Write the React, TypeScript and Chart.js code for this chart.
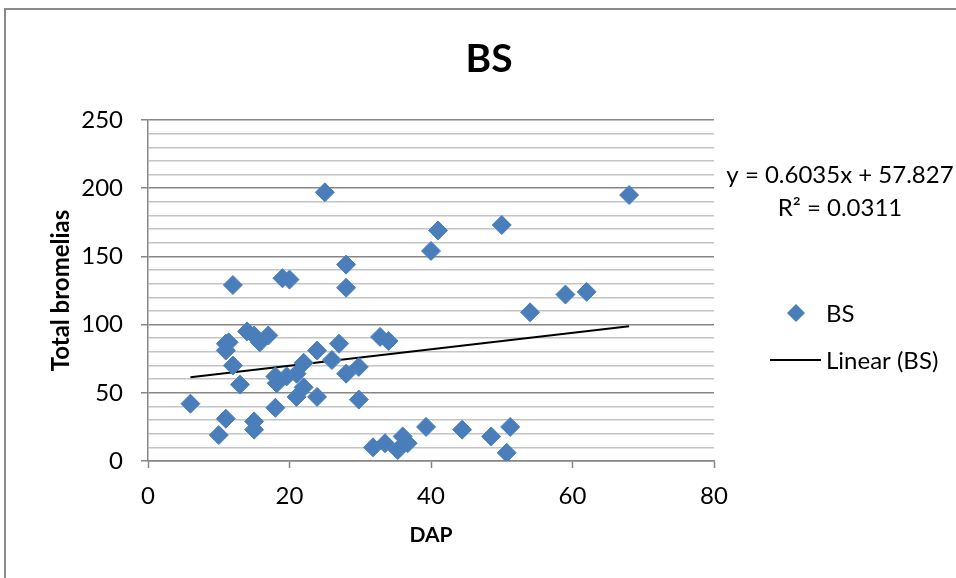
import React, { useEffect, useRef } from "react";
import { Chart, registerables } from "chart.js";

Chart.register(...registerables);

const chartTitle = "BS";
const seriesName = "BS";
const trendName = "Linear (BS)";
const xTitle = "DAP";
const yTitle = "Total bromelias";

const dapValues = [
  6, 10, 11, 11, 11, 11.4, 12, 12, 13, 14, 15, 15, 15, 15.8, 17, 18, 18.2, 18,
  19, 20, 19.6, 21, 22, 21, 22, 23.9, 23.9, 25, 26, 27, 28, 28, 28, 29.8, 29.8,
  31.8, 33.5, 32.8, 34, 35.3, 36, 36.7, 39.3, 40, 41, 44.4, 48.5, 50, 50.7,
  51.2, 54, 59, 62, 68,
];
const bromeliaValues = [
  42, 19, 31, 81, 86, 87, 129, 70, 56, 95, 92, 29, 23, 87, 92, 62, 57, 39, 134,
  133, 62, 64, 72, 47, 54, 47, 81, 197, 74, 86, 64, 144, 127, 69, 45, 10, 13,
  91, 88, 8, 18, 13, 25, 154, 169, 23, 18, 173, 6, 25, 109, 122, 124, 195,
];

const trendSlope = 0.6035;
const trendIntercept = 57.827;
const equationText = "y = 0.6035x + 57.827";
const r2Text = "R² = 0.0311";

const xTicks = [0, 20, 40, 60, 80];
const yMajorStep = 50;
const yMinorStep = 10;

const FONT = "Lato, 'Open Sans', sans-serif";
const MARKER = "#4a7ebb";
const MAJOR = "#868686";
const MINOR = "#c4c4c4";

export default function App() {
  const ref = useRef<HTMLCanvasElement | null>(null);

  useEffect(() => {
    if (!ref.current) return;
    const xs = dapValues;
    const minX = Math.min(...xs);
    const maxX = Math.max(...xs);
    const points = xs.map((x, i) => ({ x, y: bromeliaValues[i] }));
    const trend = [minX, maxX].map((x) => ({ x, y: trendSlope * x + trendIntercept }));

    const overlay = {
      id: "overlay",
      afterDraw(chart: any) {
        const ctx = chart.ctx;
        ctx.save();
        ctx.fillStyle = "#000";
        ctx.textBaseline = "middle";
        // title
        ctx.font = `bold 39px ${FONT}`;
        ctx.textAlign = "center";
        ctx.fillText(chartTitle, 489, 59);
        // trend equation
        ctx.font = `24px ${FONT}`;
        ctx.fillText(equationText, 840, 175);
        ctx.fillText(r2Text, 840, 208);
        // legend
        ctx.textAlign = "left";
        ctx.fillStyle = MARKER;
        ctx.beginPath();
        ctx.moveTo(796 - 9, 313);
        ctx.lineTo(796, 313 - 9);
        ctx.lineTo(796 + 9, 313);
        ctx.lineTo(796, 313 + 9);
        ctx.closePath();
        ctx.fill();
        ctx.fillStyle = "#000";
        ctx.fillText(seriesName, 826, 314);
        ctx.strokeStyle = "#000";
        ctx.lineWidth = 2;
        ctx.beginPath();
        ctx.moveTo(770, 360);
        ctx.lineTo(821, 360);
        ctx.stroke();
        ctx.fillText(trendName, 826, 361);
        ctx.restore();
      },
    };

    const chart = new Chart(ref.current, {
      type: "scatter",
      data: {
        datasets: [
          {
            label: seriesName,
            data: points,
            pointStyle: "rectRot",
            pointRadius: 9.5,
            pointHoverRadius: 9.5,
            backgroundColor: MARKER,
            borderColor: MARKER,
            borderWidth: 1,
          },
          {
            label: trendName,
            type: "line",
            data: trend,
            borderColor: "#000",
            borderWidth: 2,
            pointRadius: 0,
            fill: false,
          } as any,
        ],
      },
      options: {
        animation: false,
        responsive: false,
        devicePixelRatio: 1,
        layout: { padding: { left: 0, right: 242, top: 120, bottom: 0 } },
        plugins: {
          legend: { display: false },
          title: { display: false },
          tooltip: { enabled: false },
        },
        scales: {
          x: {
            type: "linear",
            min: xTicks[0],
            max: xTicks[xTicks.length - 1],
            afterFit: (s: any) => {
              s.height = 117;
            },
            afterBuildTicks: (s: any) => {
              s.ticks = xTicks.map((v) => ({ value: v }));
            },
            ticks: {
              color: "#000",
              font: { family: FONT, size: 24 },
              padding: 14,
              maxRotation: 0,
            },
            grid: {
              drawOnChartArea: false,
              drawTicks: true,
              tickLength: 7,
              tickColor: MAJOR,
              tickWidth: 1.5,
            },
            border: { display: true, color: MAJOR, width: 1.5 },
            title: {
              display: true,
              text: xTitle,
              color: "#000",
              font: { family: FONT, size: 21, weight: "bold" },
              padding: 30,
            },
          },
          y: {
            type: "linear",
            min: 0,
            max: 250,
            afterFit: (s: any) => {
              s.width = 148;
            },
            ticks: {
              stepSize: yMinorStep,
              autoSkip: false,
              color: "#000",
              font: { family: FONT, size: 24 },
              padding: 18,
              callback: (v: any) => (Number(v) % yMajorStep === 0 ? String(v) : ""),
            },
            grid: {
              color: (c: any) =>
                c.tick && c.tick.value % yMajorStep === 0 ? MAJOR : MINOR,
              lineWidth: 1.5,
              drawTicks: true,
              tickLength: 7,
              tickColor: (c: any) =>
                c.tick && c.tick.value % yMajorStep === 0 ? MAJOR : "rgba(0,0,0,0)",
              tickWidth: 1.5,
            },
            border: { display: true, color: MAJOR, width: 1.5 },
            title: {
              display: true,
              text: yTitle,
              color: "#000",
              font: { family: FONT, size: 24, weight: "bold" },
              padding: 47,
            },
          },
        },
      },
      plugins: [overlay],
    });
    return () => chart.destroy();
  }, []);

  return (
    <div
      style={{
        position: "fixed",
        left: 0,
        top: 0,
        width: 956,
        height: 578,
        overflow: "hidden",
        background: "#fff",
      }}
    >
      <div
        style={{
          position: "absolute",
          left: 4,
          top: 8,
          width: 1100,
          height: 800,
          borderTop: "2px solid #8a8a8a",
          borderLeft: "2px solid #8a8a8a",
        }}
      />
      <canvas
        ref={ref}
        width={956}
        height={578}
        style={{ position: "absolute", left: 0, top: 0, width: 956, height: 578 }}
      />
    </div>
  );
}
